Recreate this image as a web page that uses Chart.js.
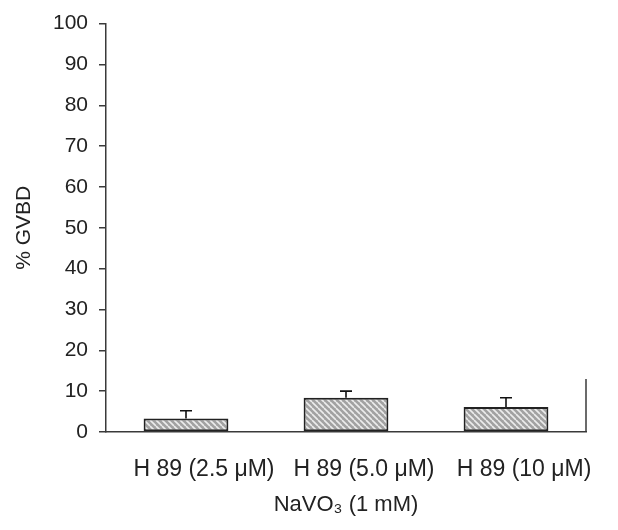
<!DOCTYPE html>
<html>
<head>
<meta charset="utf-8">
<script src="https://cdn.jsdelivr.net/npm/chart.js@4/dist/chart.umd.min.js"></script>
<style>
  html, body { margin: 0; padding: 0; background: #fff; }
  #wrap { width: 618px; height: 530px; }
</style>
</head>
<body>
<div id="wrap"><canvas id="chart" width="618" height="530"></canvas></div>
<script>
// данные
const categories = ["H 89 (2.5 \u03bcM)", "H 89 (5.0 \u03bcM)", "H 89 (10 \u03bcM)"]
const gvbdValues = [3.3, 8.4, 6.1]
const gvbdErrors = [1.9, 1.6, 2.3]
const yTicks = [0, 10, 20, 30, 40, 50, 60, 70, 80, 90, 100]

const FONT = "'Liberation Sans', Arial, Helvetica, sans-serif"
const AXIS_COLOR = "#3a3a3a"

// штриховка столбцов: серый фон с белыми диагональными полосами
function makeHatch() {
  const size = 6
  const c = document.createElement("canvas")
  c.width = size
  c.height = size
  const ctx = c.getContext("2d")
  ctx.fillStyle = "#a2a2a2"
  ctx.fillRect(0, 0, size, size)
  ctx.strokeStyle = "#ececec"
  ctx.lineWidth = 1.6
  ctx.beginPath()
  for (let k = -1; k <= 1; k++) {
    ctx.moveTo(k * size, 0)
    ctx.lineTo(k * size + size, size)
  }
  ctx.stroke()
  return ctx.createPattern(c, "repeat")
}

// планки погрешностей (только вверх) + короткая засечка справа на оси X
const errorBars = {
  id: "errorBars",
  afterDatasetsDraw(chart) {
    const ctx = chart.ctx
    const meta = chart.getDatasetMeta(0)
    const y = chart.scales.y
    ctx.save()
    ctx.strokeStyle = "#111"
    ctx.lineWidth = 1.6
    meta.data.forEach((bar, i) => {
      const top = y.getPixelForValue(gvbdValues[i] + gvbdErrors[i])
      ctx.beginPath()
      ctx.moveTo(bar.x, bar.y)
      ctx.lineTo(bar.x, top)
      ctx.moveTo(bar.x - 6, top)
      ctx.lineTo(bar.x + 6, top)
      ctx.stroke()
    })
    const area = chart.chartArea
    ctx.strokeStyle = AXIS_COLOR
    ctx.lineWidth = 1.5
    ctx.beginPath()
    ctx.moveTo(area.right, area.bottom)
    ctx.lineTo(area.right, y.getPixelForValue(13))
    ctx.stroke()
    ctx.restore()
  }
}

new Chart(document.getElementById("chart"), {
  type: "bar",
  data: {
    labels: categories,
    datasets: [{
      data: gvbdValues,
      backgroundColor: makeHatch(),
      borderColor: "#222",
      borderWidth: 2,
      borderSkipped: false,
      categoryPercentage: 1,
      barPercentage: 0.53
    }]
  },
  options: {
    responsive: false,
    animation: false,
    layout: { padding: { top: 22, right: 32, left: 0, bottom: 0 } },
    plugins: {
      legend: { display: false },
      tooltip: { enabled: false }
    },
    scales: {
      x: {
        afterFit: (scale) => { scale.height = 98 },
        grid: { display: true, drawOnChartArea: false, drawTicks: false },
        border: { color: AXIS_COLOR, width: 1.5 },
        ticks: {
          color: "#222",
          padding: 24,
          labelOffset: 18,
          font: { family: FONT, size: 23 },
          maxRotation: 0
        },
        title: {
          display: true,
          text: "NaVO\u2083 (1 mM)",
          color: "#222",
          font: { family: FONT, size: 22 },
          padding: { top: 0, bottom: 12 }
        }
      },
      y: {
        min: 0,
        max: 100,
        afterFit: (scale) => { scale.width = 106 },
        afterBuildTicks: (scale) => { scale.ticks = yTicks.map(v => ({ value: v })) },
        grid: { display: true, drawOnChartArea: false, drawTicks: true, tickLength: 7, color: AXIS_COLOR, lineWidth: 1.5 },
        border: { color: AXIS_COLOR, width: 1.5 },
        ticks: {
          color: "#222",
          padding: 11,
          font: { family: FONT, size: 21 }
        },
        title: {
          display: true,
          text: "% GVBD",
          color: "#222",
          font: { family: FONT, size: 21 },
          padding: { top: 12, bottom: 0 }
        }
      }
    }
  },
  plugins: [errorBars]
})
</script>
</body>
</html>
